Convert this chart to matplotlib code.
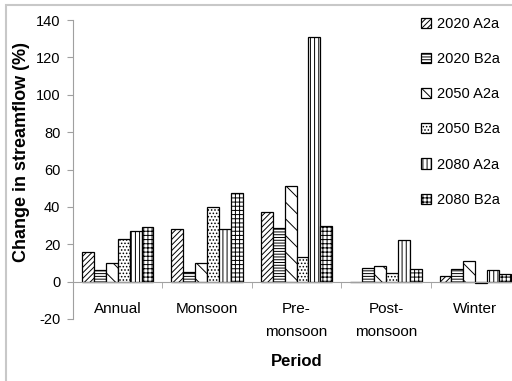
import matplotlib
matplotlib.use("Agg")
import matplotlib.pyplot as plt
from matplotlib.patches import Rectangle
import numpy as np

plt.rcParams['font.family'] = ['Liberation Sans', 'DejaVu Sans']
plt.rcParams['hatch.linewidth'] = 0.7

periods = ["Annual", "Monsoon", "Pre-\nmonsoon", "Post-\nmonsoon", "Winter"]
scenarios = ["2020 A2a", "2020 B2a", "2050 A2a", "2050 B2a", "2080 A2a", "2080 B2a"]

s2020_a2a = [16, 28, 37.5, 0, 3]
s2020_b2a = [6, 5, 28.5, 7.5, 6.5]
s2050_a2a = [10, 10, 51, 8.5, 11]
s2050_b2a = [23, 40, 13, 4.5, -1]
s2080_a2a = [27, 28, 131, 22.5, 6]
s2080_b2a = [29, 47.5, 30, 6.5, 4]

series = [s2020_a2a, s2020_b2a, s2050_a2a, s2050_b2a, s2080_a2a, s2080_b2a]
hatches = ["//////", "------", "\\\\", ".....", "||||", "++++"]

yticks = list(range(-20, 141, 20))

fig = plt.figure(figsize=(5.12, 3.81), dpi=100)
ax = fig.add_axes([73 / 512, 62 / 381, 447 / 512, 299 / 381])

x = np.arange(len(periods))
w = 0.8 / len(series)
for j, (vals, name, h) in enumerate(zip(series, scenarios, hatches)):
    ax.bar(x + (j - 2.5) * w, vals, width=w, color="white", edgecolor="black",
           linewidth=0.9, hatch=h, label=name)

ax.set_xlim(-0.5, len(periods) - 0.5)
ax.set_ylim(-20, 140)

ax.tick_params(axis="x", which="major", length=0, labelbottom=False)
ax.tick_params(axis="x", which="minor", length=4, color="#a0a0a0", direction="out")
ax.tick_params(axis="y", length=4, color="#a0a0a0", pad=5)

ax.set_yticks(yticks)
ax.set_yticklabels([str(t) for t in yticks], fontsize=10.5)
ax.set_xticks(x)
ax.set_xticks(np.arange(0.5, len(periods) - 1, 1.0), minor=True)

# category names hang below the zero line
for xi, name in zip(x, periods):
    ax.annotate(name, xy=(xi, 0), xycoords="data", xytext=(0, -15),
                textcoords="offset points", ha="center", va="top",
                fontsize=11, linespacing=1.75, annotation_clip=False)

for side in ("top", "right"):
    ax.spines[side].set_visible(False)
ax.spines["bottom"].set_position(("data", 0))
ax.spines["bottom"].set_color("#a0a0a0")
ax.spines["left"].set_color("#a0a0a0")
ax.spines["left"].set_bounds(-20, 140)

fig.text(22 / 512, 1 - 152 / 381, "Change in streamflow (%)", rotation=90,
         ha="center", va="center", fontsize=13, fontweight="bold")
fig.text(297 / 512, 1 - 362 / 381, "Period", ha="center", va="center",
         fontsize=12, fontweight="bold")

fig.legend(loc="upper left", bbox_to_anchor=(421 / 512, 1 - 17 / 381),
           bbox_transform=fig.transFigure, frameon=False, fontsize=10.5,
           handlelength=0.7, handleheight=0.7, handletextpad=0.4,
           labelspacing=1.45, borderpad=0, borderaxespad=0)

fig.patches.append(Rectangle((6 / 512, -0.05), 1.1, 1 - 5 / 381 + 0.05,
                             transform=fig.transFigure, fill=False,
                             edgecolor="#c8c8c8", linewidth=1.5, zorder=-1))

fig.savefig("out.png", dpi=100)
